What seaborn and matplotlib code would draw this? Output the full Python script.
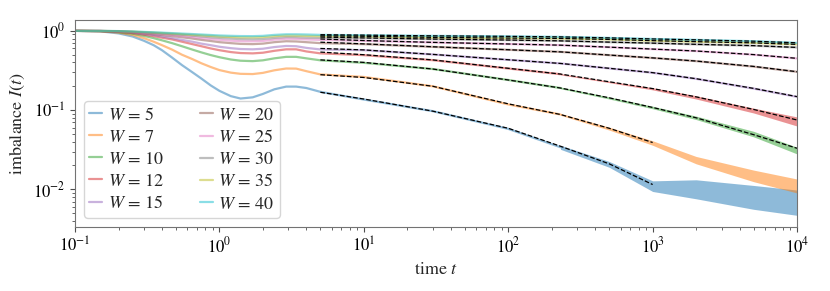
import numpy as np
import pandas as pd
import matplotlib
matplotlib.use("Agg")
import matplotlib.pyplot as plt
import seaborn as sns

# disorder strengths shown in the legend
W_values = [5, 7, 10, 12, 15, 20, 25, 30, 35, 40]

# time grid of the simulated curves
t = [0.1, 0.15, 0.2, 0.25, 0.3, 0.35, 0.4, 0.47, 0.55, 0.65, 0.75, 0.87, 1.0, 1.2,
     1.4, 1.7, 2.0, 2.4, 2.9, 3.4, 4.0, 5, 10, 30, 100, 230, 500, 1000, 2000, 5000, 10000]

I_W5 = [1.0, 0.985, 0.93, 0.85, 0.75, 0.66, 0.57, 0.46, 0.37, 0.30, 0.25, 0.205, 0.175, 0.15,
        0.14, 0.145, 0.16, 0.183, 0.198, 0.198, 0.19, 0.17,
        0.136, 0.097, 0.058, 0.034, 0.0205, 0.011, 0.0095, 0.0078, 0.007]
I_W7 = [1.0, 0.99, 0.95, 0.89, 0.81, 0.73, 0.66, 0.58, 0.50, 0.44, 0.39, 0.35, 0.32, 0.297,
        0.287, 0.285, 0.295, 0.318, 0.335, 0.334, 0.31, 0.282,
        0.262, 0.20, 0.118, 0.088, 0.058, 0.038, 0.024, 0.015, 0.011]
I_W10 = [1.0, 0.993, 0.965, 0.92, 0.865, 0.81, 0.76, 0.70, 0.64, 0.58, 0.535, 0.495, 0.465, 0.435,
         0.42, 0.415, 0.425, 0.45, 0.47, 0.47, 0.45, 0.425,
         0.395, 0.33, 0.24, 0.19, 0.143, 0.107, 0.079, 0.047, 0.031]
I_W12 = [1.0, 0.995, 0.975, 0.94, 0.895, 0.86, 0.82, 0.78, 0.73, 0.68, 0.64, 0.60, 0.57, 0.54,
         0.525, 0.52, 0.53, 0.56, 0.585, 0.585, 0.55, 0.52,
         0.494, 0.427, 0.335, 0.284, 0.226, 0.185, 0.145, 0.099, 0.071]
I_W15 = [1.0, 0.996, 0.98, 0.95, 0.915, 0.885, 0.85, 0.81, 0.77, 0.73, 0.69, 0.66, 0.63, 0.605,
         0.59, 0.585, 0.595, 0.625, 0.645, 0.64, 0.61, 0.583,
         0.571, 0.504, 0.431, 0.388, 0.336, 0.296, 0.248, 0.187, 0.147]
I_W20 = [1.0, 0.997, 0.985, 0.96, 0.935, 0.91, 0.885, 0.86, 0.83, 0.80, 0.77, 0.745, 0.72, 0.70,
         0.685, 0.68, 0.69, 0.72, 0.74, 0.735, 0.72, 0.70,
         0.68, 0.628, 0.577, 0.543, 0.494, 0.455, 0.415, 0.354, 0.304]
I_W25 = [1.0, 0.998, 0.988, 0.97, 0.945, 0.925, 0.905, 0.885, 0.86, 0.835, 0.81, 0.79, 0.77, 0.752,
         0.74, 0.738, 0.745, 0.775, 0.795, 0.792, 0.78, 0.77,
         0.748, 0.714, 0.682, 0.66, 0.622, 0.588, 0.556, 0.50, 0.449]
I_W30 = [1.0, 0.998, 0.99, 0.975, 0.955, 0.94, 0.925, 0.91, 0.89, 0.87, 0.85, 0.83, 0.815, 0.80,
         0.787, 0.783, 0.79, 0.815, 0.835, 0.832, 0.82, 0.815,
         0.81, 0.786, 0.765, 0.748, 0.72, 0.70, 0.675, 0.65, 0.617]
I_W35 = [1.0, 0.998, 0.992, 0.98, 0.965, 0.953, 0.94, 0.925, 0.91, 0.893, 0.88, 0.865, 0.85, 0.838,
         0.83, 0.828, 0.835, 0.858, 0.875, 0.872, 0.865, 0.857,
         0.852, 0.826, 0.81, 0.802, 0.78, 0.752, 0.73, 0.705, 0.674]
I_W40 = [1.0, 0.999, 0.994, 0.983, 0.97, 0.96, 0.95, 0.937, 0.925, 0.912, 0.90, 0.887, 0.875, 0.866,
         0.86, 0.858, 0.865, 0.89, 0.905, 0.905, 0.90, 0.89,
         0.88, 0.865, 0.852, 0.84, 0.815, 0.79, 0.77, 0.74, 0.706]
curves = [I_W5, I_W7, I_W10, I_W12, I_W15, I_W20, I_W25, I_W30, I_W35, I_W40]

# spread of the noisy late-time data (lower / upper edge)
band_t = [230, 500, 1000, 2000, 5000, 10000]
band_W5 = ([0.032, 0.019, 0.0094, 0.0076, 0.0056, 0.0047],
           [0.036, 0.0225, 0.0128, 0.0132, 0.0112, 0.0098])
band_W7 = ([0.086, 0.056, 0.036, 0.021, 0.0125, 0.009],
           [0.091, 0.061, 0.041, 0.026, 0.0175, 0.0135])
band_W10 = ([0.186, 0.138, 0.104, 0.076, 0.046, 0.028],
            [0.196, 0.147, 0.112, 0.084, 0.054, 0.034])
band_W12 = ([0.278, 0.222, 0.18, 0.138, 0.092, 0.063],
            [0.29, 0.232, 0.192, 0.152, 0.106, 0.082])
bands = {5: band_W5, 7: band_W7, 10: band_W10, 12: band_W12}

# fitted curves (dashed)
t_fit = [5, 10, 30, 100, 230, 500, 1000, 2000, 5000, 10000]
fit_W5 = [0.168, 0.138, 0.097, 0.059, 0.035, 0.021, 0.0115]
fit_W7 = [0.28, 0.258, 0.20, 0.12, 0.088, 0.059, 0.039]
fit_W10 = [0.43, 0.40, 0.33, 0.24, 0.19, 0.143, 0.108, 0.08, 0.049, 0.033]
fit_W12 = [0.54, 0.50, 0.43, 0.337, 0.285, 0.228, 0.187, 0.147, 0.102, 0.075]
fit_W15 = [0.60, 0.575, 0.505, 0.432, 0.388, 0.337, 0.297, 0.249, 0.188, 0.148]
fit_W20 = [0.72, 0.685, 0.63, 0.578, 0.543, 0.495, 0.456, 0.416, 0.356, 0.305]
fit_W25 = [0.79, 0.755, 0.716, 0.683, 0.66, 0.623, 0.589, 0.557, 0.502, 0.45]
fit_W30 = [0.835, 0.815, 0.788, 0.766, 0.748, 0.721, 0.70, 0.676, 0.651, 0.618]
fit_W35 = [0.865, 0.855, 0.828, 0.811, 0.802, 0.78, 0.753, 0.731, 0.706, 0.675]
fit_W40 = [0.895, 0.884, 0.866, 0.853, 0.84, 0.816, 0.791, 0.771, 0.741, 0.707]
fits = [fit_W5, fit_W7, fit_W10, fit_W12, fit_W15, fit_W20, fit_W25, fit_W30, fit_W35, fit_W40]

labels = [f"$W\\,=\\,{w}$" for w in W_values]
palette = sns.color_palette("tab10", len(W_values))

frames = []
for vals, lab, w in zip(curves, labels, W_values):
    part = pd.DataFrame({"t": t, "I": vals, "label": lab})
    if w in bands:
        # the noisy tail is drawn as a band instead
        part = part[part["t"] <= band_t[0]]
    frames.append(part)
df = pd.concat(frames, ignore_index=True)
df_fit = pd.concat([pd.DataFrame({"t": t_fit[:len(vals)], "I": vals, "W": w})
                    for vals, w in zip(fits, W_values)], ignore_index=True)

sns.set_style("ticks")
plt.rcParams["font.family"] = ["STIXGeneral", "DejaVu Serif"]
plt.rcParams["mathtext.fontset"] = "stix"
plt.rcParams["axes.edgecolor"] = "0.45"
plt.rcParams["xtick.color"] = "0.3"
plt.rcParams["ytick.color"] = "0.3"
plt.rcParams["xtick.labelcolor"] = "black"
plt.rcParams["ytick.labelcolor"] = "black"

fig = plt.figure(figsize=(8.3, 2.91), dpi=100)
ax = fig.add_axes([0.0904, 0.22, 0.8699, 0.712])
ax.set_xscale("log")
ax.set_yscale("log")

sns.lineplot(data=df, x="t", y="I", hue="label", hue_order=labels, palette=palette,
             estimator=None, sort=False, lw=1.6, alpha=0.5, ax=ax)

for i, w in enumerate(W_values):
    if w in bands:
        lo, hi = bands[w]
        ax.fill_between(band_t, lo, hi, color=palette[i], alpha=0.5, lw=0)

sns.lineplot(data=df_fit, x="t", y="I", units="W", estimator=None, sort=False,
             color="black", linestyle="--", lw=0.9, legend=False, ax=ax)

ax.set_xlim(0.1, 1e4)
ax.set_ylim(0.00335, 1.38)
ax.set_xlabel("time $t$", fontsize=13)
ax.set_ylabel("imbalance $I(t)$", fontsize=13)
ax.tick_params(labelsize=12)

handles, labs = ax.get_legend_handles_labels()
for h in handles:
    h.set_alpha(0.5)
ax.legend(handles, labs, ncol=2, loc="lower left", fontsize=13, handlelength=0.7,
          handletextpad=0.3, columnspacing=2.0, labelspacing=0.3, borderpad=0.3,
          framealpha=0.8)

fig.savefig("out.png", dpi=100)
